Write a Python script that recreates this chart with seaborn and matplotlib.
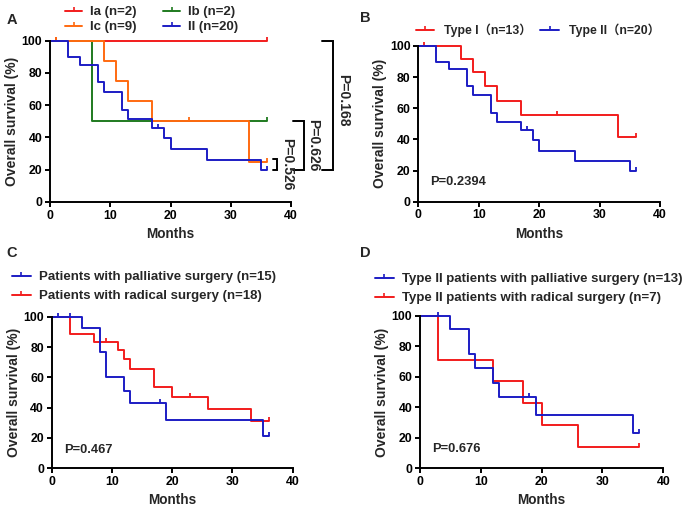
import matplotlib
matplotlib.use("Agg")
import matplotlib.pyplot as plt
from matplotlib.lines import Line2D
import seaborn as sns
import pandas as pd

# ---------------- data ----------------
# Panel A
Ia_t = [0, 36];                     Ia_s = [100, 100]
Ia_ct = [1, 36];                    Ia_cs = [100, 100]
Ib_t = [0, 7, 36];                  Ib_s = [100, 50, 50]
Ib_ct = [36];                       Ib_cs = [50]
Ic_t = [0, 9, 11, 13, 17, 33, 36];  Ic_s = [100, 87.5, 75, 62.5, 50, 25, 25]
Ic_ct = [1, 23, 36];                Ic_cs = [100, 50, 25]
II_t = [0, 3, 5, 8, 9, 12, 13, 17, 19, 20, 26, 35, 36]
II_s = [100, 90, 85, 74.5, 68.5, 57, 51.5, 45.8, 39.5, 32.7, 26.2, 19.6, 19.6]
II_ct = [18, 36];                   II_cs = [45.8, 19.6]

# Panel B
TI_t = [0, 7, 9, 11, 13, 17, 33, 36]
TI_s = [100, 91.7, 83.3, 74.3, 64.9, 55.6, 41.7, 41.7]
TI_ct = [1, 23, 36];                TI_cs = [100, 55.6, 41.7]

# Panel C
Cp_t = [0, 5, 8, 9, 12, 13, 19, 35, 36]
Cp_s = [100, 92.3, 76.9, 60, 51.3, 42.8, 32.1, 21.4, 21.4]
Cp_ct = [1, 3, 18, 36];             Cp_cs = [100, 100, 42.8, 21.4]
Cr_t = [0, 3, 7, 11, 12, 13, 17, 20, 26, 33, 36]
Cr_s = [100, 88.9, 83.3, 77.8, 71.8, 65.6, 53.8, 47.1, 39.2, 31.4, 31.4]
Cr_ct = [9, 23, 36];                Cr_cs = [83.3, 47.1, 31.4]

# Panel D
Dp_t = [0, 5, 8, 9, 12, 13, 19, 35, 36]
Dp_s = [100, 91.7, 75, 65.6, 56.2, 46.9, 35.2, 23.4, 23.4]
Dp_ct = [3, 18, 36];                Dp_cs = [100, 46.9, 23.4]
Dr_t = [0, 3, 12, 17, 20, 26, 36]
Dr_s = [100, 71.4, 57.1, 42.9, 28.6, 14.3, 14.3]
Dr_ct = [36];                       Dr_cs = [14.3]

labels_A = ["Ia (n=2)", "Ib (n=2)", "Ic (n=9)", "II (n=20)"]
labels_B = ["Type I\uff08n=13\uff09", "Type II\uff08n=20\uff09"]
labels_C = ["Patients with palliative surgery (n=15)", "Patients with radical surgery (n=18)"]
labels_D = ["Type II patients with palliative surgery (n=13)", "Type II patients with radical surgery (n=7)"]
pvals = {"B": "P=0.2394", "C": "P=0.467", "D": "P=0.676"}
# pairwise comparisons in A: (label, y-low, y-high)
brackets_A = [("P=0.526", 20, 26.5), ("P=0.626", 20, 50), ("P=0.168", 20, 100)]

x_ticks = [0, 10, 20, 30, 40]
y_ticks = [0, 20, 40, 60, 80, 100]

RED = "#f21c1c"
ORANGE = "#ff6a10"
GREEN = "#1f7a1f"
BLUE = "#1c1cc4"

# ---------------- style ----------------
sns.set_theme(style="ticks")
plt.rcParams["font.family"] = ["Liberation Sans", "Noto Sans CJK SC", "DejaVu Sans"]
plt.rcParams["font.weight"] = "bold"
plt.rcParams["axes.labelweight"] = "bold"

fig = plt.figure(figsize=(6.91, 5.08), dpi=100)
W, H = 691, 508

def add_ax(l, t, r, b):
    return fig.add_axes([l / W, 1 - b / H, (r - l) / W, (b - t) / H])

axA = add_ax(50, 40.7, 291, 202)
axB = add_ax(418.3, 46, 660, 201.7)
axC = add_ax(51.7, 316.7, 292.7, 468.3)
axD = add_ax(420, 316, 663.3, 468.3)

LW = 1.4
LEGFONT = {"weight": "bold", "size": 9.5}

def km(ax, t, s, ct, cs, color):
    df = pd.DataFrame({"t": t, "s": s})
    sns.lineplot(data=df, x="t", y="s", drawstyle="steps-post", color=color,
                 lw=LW, ax=ax, estimator=None, legend=False, clip_on=False)
    ax.plot(ct, cs, linestyle="none", marker=2, markersize=3.2,
            markeredgewidth=1.3, color=color, clip_on=False)

def style(ax):
    ax.set_xlim(0, 40)
    ax.set_ylim(0, 100)
    ax.set_xticks(x_ticks)
    ax.set_yticks(y_ticks)
    for sp in ["top", "right"]:
        ax.spines[sp].set_visible(False)
    for sp in ["left", "bottom"]:
        ax.spines[sp].set_linewidth(1.4)
        ax.spines[sp].set_color("black")
    ax.tick_params(axis="both", direction="out", length=3.5, width=1.4,
                   labelsize=8.8, colors="black", pad=2)
    for lab in ax.get_xticklabels() + ax.get_yticklabels():
        lab.set_fontweight("bold")
    ax.set_xlabel("Months", fontsize=9.8, fontweight="bold", labelpad=4)
    ax.set_ylabel("Overall survival (%)", fontsize=10, fontweight="bold", labelpad=2)
    ax.set_facecolor("none")

def handle(color):
    return Line2D([0], [0], color=color, lw=LW, marker=2, markersize=3.2,
                  markeredgewidth=1.2)

# Panel A
km(axA, Ia_t, Ia_s, Ia_ct, Ia_cs, RED)
km(axA, Ib_t, Ib_s, Ib_ct, Ib_cs, GREEN)
km(axA, Ic_t, Ic_s, Ic_ct, Ic_cs, ORANGE)
km(axA, II_t, II_s, II_ct, II_cs, BLUE)
style(axA)
axA.legend([handle(RED), handle(ORANGE), handle(GREEN), handle(BLUE)],
           [labels_A[0], labels_A[2], labels_A[1], labels_A[3]],
           ncol=2, loc="upper left", bbox_to_anchor=(56 / W, 1 + 3 / H),
           bbox_transform=fig.transFigure, frameon=False,
           prop=LEGFONT, handlelength=1.3,
           handletextpad=0.6, columnspacing=2.0, labelspacing=0.2,
           borderpad=0.2)

# brackets in A
bx = [37.0, 40.3, 45.1]
bwid = [0.7, 1.9, 1.8]
for (lab, ylo, yhi), x0, w in zip(brackets_A, bx, bwid):
    x1 = x0 + w
    axA.plot([x0, x1, x1, x0], [yhi, yhi, ylo, ylo], color="black", lw=1.4,
             clip_on=False, solid_joinstyle="miter")
txt_pos = [(39.4, 23.5), (43.7, 35.3), (48.7, 63)]
for (lab, _, _), (tx, ty) in zip(brackets_A, txt_pos):
    axA.text(tx, ty, lab, rotation=-90, ha="center", va="center",
             fontsize=10, fontweight="bold", clip_on=False)

# Panel B
km(axB, TI_t, TI_s, TI_ct, TI_cs, RED)
km(axB, II_t, II_s, II_ct, II_cs, BLUE)
style(axB)
axB.legend([handle(RED), handle(BLUE)], labels_B, ncol=2, loc="upper left",
           bbox_to_anchor=(407 / W, 1 - 15 / H), bbox_transform=fig.transFigure,
           frameon=False, prop={"weight": "bold", "size": 8.8}, handlelength=1.55,
           handletextpad=0.8, columnspacing=0.7, borderpad=0.2)
axB.text(1.9, 12.7, pvals["B"], ha="left", va="center", fontsize=9.3, fontweight="bold")

# Panel C
km(axC, Cr_t, Cr_s, Cr_ct, Cr_cs, RED)
km(axC, Cp_t, Cp_s, Cp_ct, Cp_cs, BLUE)
style(axC)
axC.legend([handle(BLUE), handle(RED)], labels_C, loc="upper left",
           bbox_to_anchor=(3 / W, 1 - 262 / H), bbox_transform=fig.transFigure,
           frameon=False, prop=LEGFONT, handlelength=1.4,
           handletextpad=0.6, labelspacing=0.5, borderpad=0.2)
axC.text(2.0, 12, pvals["C"], ha="left", va="center", fontsize=9.3, fontweight="bold")

# Panel D
km(axD, Dr_t, Dr_s, Dr_ct, Dr_cs, RED)
km(axD, Dp_t, Dp_s, Dp_ct, Dp_cs, BLUE)
style(axD)
axD.legend([handle(BLUE), handle(RED)], labels_D, loc="upper left",
           bbox_to_anchor=(366 / W, 1 - 264 / H), bbox_transform=fig.transFigure,
           frameon=False, prop=LEGFONT, handlelength=1.4,
           handletextpad=0.6, labelspacing=0.5, borderpad=0.2)
axD.text(2.0, 12.8, pvals["D"], ha="left", va="center", fontsize=9.3, fontweight="bold")

# panel letters
for letter, (px, py) in {"A": (7, 20), "B": (360, 18), "C": (6, 253), "D": (360, 253)}.items():
    fig.text(px / W, 1 - py / H, letter, fontsize=10.5, fontweight="bold",
             ha="left", va="center")

fig.savefig("out.png", dpi=100, facecolor="white")
